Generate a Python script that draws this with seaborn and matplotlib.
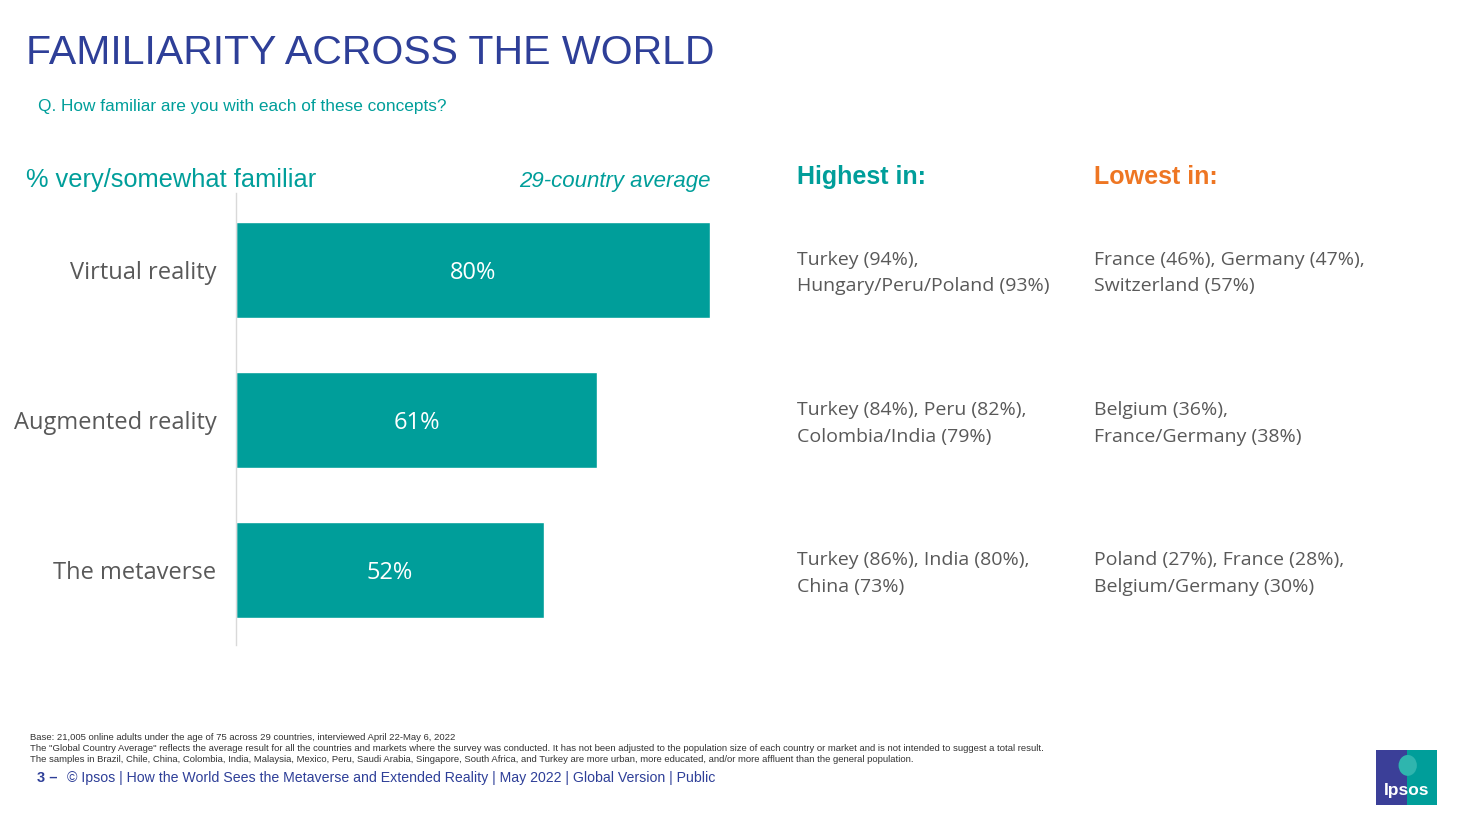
import seaborn as sns
import matplotlib.pyplot as plt
import matplotlib.patches as mpatches
import pandas as pd

# data
concepts = ['Virtual reality', 'Augmented reality', 'The metaverse']
familiar_pct = [80, 61, 52]
highest_in = ['Turkey (94%),\nHungary/Peru/Poland (93%)',
              'Turkey (84%), Peru (82%),\nColombia/India (79%)',
              'Turkey (86%), India (80%),\nChina (73%)']
lowest_in = ['France (46%), Germany (47%),\nSwitzerland (57%)',
             'Belgium (36%),\nFrance/Germany (38%)',
             'Poland (27%), France (28%),\nBelgium/Germany (30%)']

TEAL = '#009E9A'
NAVY = '#2E3F98'
ORANGE = '#EE7623'
GREY = '#595959'

sns.set_style('white')
plt.rcParams['font.family'] = ['Open Sans', 'DejaVu Sans']

df = pd.DataFrame({'concept': concepts, 'pct': familiar_pct})

fig = plt.figure(figsize=(14.63, 8.23), dpi=100)
W, H = 1463, 823
ax = fig.add_axes([236 / W, 1 - 645 / H, 474 / W, 452 / H])

sns.barplot(data=df, x='pct', y='concept', color=TEAL, width=0.645,
            saturation=1, ax=ax, orient='h')
ax.set_xlim(0, 80)
ax.set_ylim(2.5, -0.513)
ax.set_xlabel('')
ax.set_ylabel('')
ax.set_xticks([])
for s in ['top', 'right', 'bottom']:
    ax.spines[s].set_visible(False)
ax.spines['left'].set_color('#D9D9D9')
ax.spines['left'].set_linewidth(1)
ax.tick_params(axis='y', length=0, pad=14, labelsize=17, labelcolor=GREY)

for i, v in enumerate(familiar_pct):
    ax.text(v / 2, i, f'{v}%', color='white', fontsize=17, ha='center',
            va='center_baseline')

# right columns (aligned with bar centres)
for i in range(len(concepts)):
    y = 1 - (273 + 150.3 * i) / H
    fig.text(797 / W, y, highest_in[i], color=GREY, fontsize=14, va='center',
             linespacing=1.6)
    fig.text(1094 / W, y, lowest_in[i], color=GREY, fontsize=14, va='center',
             linespacing=1.6)

arial = ['Liberation Sans', 'DejaVu Sans']
fig.text(26 / W, 1 - 53 / H, 'FAMILIARITY ACROSS THE WORLD', color=NAVY,
         fontsize=29.5, va='center', family=arial)
fig.text(38 / W, 1 - 107 / H, 'Q. How familiar are you with each of these concepts?',
         color=TEAL, fontsize=12.4, va='center', family=arial)
fig.text(26 / W, 1 - 180 / H, '% very/somewhat familiar', color=TEAL,
         fontsize=18.3, va='center', family=arial)
fig.text(711 / W, 1 - 181 / H, '29-country average', color=TEAL, fontsize=16,
         style='italic', ha='right', va='center', family=arial)
fig.text(797 / W, 1 - 177 / H, 'Highest in:', color=TEAL, fontsize=18,
         weight='bold', va='center', family=arial)
fig.text(1094 / W, 1 - 177 / H, 'Lowest in:', color=ORANGE, fontsize=18,
         weight='bold', va='center', family=arial)

narrow = ['Liberation Sans Narrow', 'Liberation Sans', 'DejaVu Sans']
notes = ['Base: 21,005 online adults under the age of 75 across 29 countries, interviewed April 22-May 6, 2022',
         'The "Global Country Average" reflects the average result for all the countries and markets where the survey was conducted. It has not been adjusted to the population size of each country or market and is not intended to suggest a total result.',
         'The samples in Brazil, Chile, China, Colombia, India, Malaysia, Mexico, Peru, Saudi Arabia, Singapore, South Africa, and Turkey are more urban, more educated, and/or more affluent than the general population.']
for k, line in enumerate(notes):
    fig.text(30 / W, 1 - (737 + 11.5 * k) / H, line, color='#333333', fontsize=6.8,
             va='center', family=narrow)
fig.text(37 / W, 1 - 778 / H, '3 \u2013', color=NAVY, fontsize=10.5, weight='bold',
         va='center', family=arial)
fig.text(67 / W, 1 - 778 / H,
         '\u00a9 Ipsos | How the World Sees the Metaverse and Extended Reality | May 2022 | Global Version | Public',
         color=NAVY, fontsize=10.2, va='center', family=arial)

# Ipsos logo
lx, ly, lw, lh = 1376 / W, 1 - 805 / H, 61 / W, 55 / H
fig.patches.append(mpatches.Rectangle((lx, ly), lw, lh, transform=fig.transFigure,
                                      facecolor='#3B3F98', edgecolor='none'))
fig.patches.append(mpatches.Rectangle((lx + lw * 0.5, ly), lw * 0.5, lh,
                                      transform=fig.transFigure,
                                      facecolor=TEAL, edgecolor='none'))
fig.patches.append(mpatches.Ellipse((lx + lw * 0.52, ly + lh * 0.72), lw * 0.3,
                                    lh * 0.38, transform=fig.transFigure,
                                    facecolor='#2FB5AE', edgecolor='none'))
fig.text(lx + lw / 2, ly + lh * 0.27, 'Ipsos', color='white', fontsize=12.5,
         weight='bold', ha='center', va='center', family=arial)

fig.savefig('out.png', dpi=100, facecolor='white')
